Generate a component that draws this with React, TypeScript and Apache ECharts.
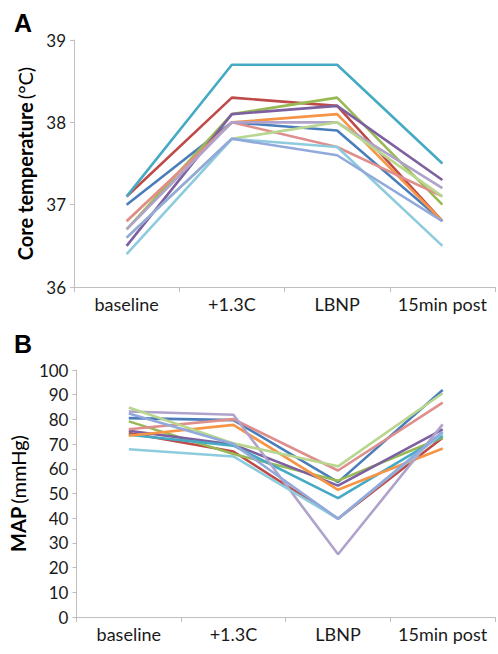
import React, { useEffect, useRef } from "react";
import * as echarts from "echarts";

const categories = ["baseline", "+1.3C", "LBNP", "15min post"];

const seriesNames = [
  "S1", "S2", "S3", "S4", "S5", "S6", "S7", "S8", "S9", "S10", "S11",
];

const seriesColors = [
  "#4A7EBB", // blue
  "#BE4B48", // red
  "#98B954", // green
  "#7D60A0", // purple
  "#46AAC5", // teal
  "#F69546", // orange
  "#DE8E8C", // pink
  "#AFA2CB", // lavender
  "#B9D68F", // light green
  "#8DCBDD", // light blue
  "#92A9DB", // blue-grey
];

// Panel A: core temperature (°C)
const tempValues: number[][] = [
  [37.0, 38.0, 37.9, 36.8],
  [37.1, 38.3, 38.2, 36.8],
  [36.7, 38.1, 38.3, 37.0],
  [36.5, 38.1, 38.2, 37.3],
  [37.1, 38.7, 38.7, 37.5],
  [36.8, 38.0, 38.1, 36.8],
  [36.8, 38.0, 37.7, 37.1],
  [36.7, 38.0, 38.0, 37.2],
  [36.6, 37.8, 38.0, 37.1],
  [36.4, 37.8, 37.7, 36.5],
  [36.6, 37.8, 37.6, 36.8],
];

// Panel B: MAP (mmHg)
const mapValues: number[][] = [
  [80.5, 79.7, 54.6, 91.9],
  [74.5, 67.0, 39.8, 72.6],
  [79.2, 66.0, 55.2, 72.7],
  [75.4, 69.8, 53.2, 76.0],
  [73.8, 69.4, 48.1, 73.4],
  [73.4, 77.8, 51.5, 68.2],
  [76.0, 80.1, 59.3, 86.8],
  [83.2, 81.9, 25.4, 78.0],
  [84.8, 70.3, 61.0, 90.6],
  [67.9, 65.0, 39.8, 74.5],
  [82.4, 70.0, 39.8, 75.0],
];

const tempTicks = { min: 36, max: 39, interval: 1 };
const mapTicks = { min: 0, max: 100, interval: 10 };

const FONT = "Lato, 'Open Sans', sans-serif";

export default function App() {
  const ref = useRef<HTMLDivElement>(null);

  useEffect(() => {
    document.body.style.margin = "0";
    if (!ref.current) return;
    const chart = echarts.init(ref.current, undefined, { renderer: "svg" });

    const axisLabel = { color: "#1a1a1a", fontSize: 17, fontFamily: FONT };
    const axisLine = { show: true, lineStyle: { color: "#BFBFBF", width: 1 } };

    const xAxisCommon = {
      type: "category" as const,
      data: categories,
      boundaryGap: true,
      axisLine,
      axisTick: { show: true, length: 5, lineStyle: { color: "#BFBFBF" } },
      axisLabel: { ...axisLabel, fontSize: 18, margin: 8, interval: 0 },
      splitLine: { show: false },
    };

    const yAxisCommon = {
      type: "value" as const,
      axisLine,
      axisTick: { show: true, length: 4, lineStyle: { color: "#BFBFBF" } },
      axisLabel: { ...axisLabel, margin: 8 },
      splitLine: { show: false },
      nameLocation: "middle" as const,
      nameRotate: 90,
    };

    const series: any[] = [];
    seriesNames.forEach((name, i) => {
      series.push({
        name,
        type: "line",
        xAxisIndex: 0,
        yAxisIndex: 0,
        data: tempValues[i],
        symbol: "none",
        lineStyle: { color: seriesColors[i], width: 2.6 },
        itemStyle: { color: seriesColors[i] },
      });
    });
    seriesNames.forEach((name, i) => {
      series.push({
        name,
        type: "line",
        xAxisIndex: 1,
        yAxisIndex: 1,
        data: mapValues[i],
        symbol: "none",
        lineStyle: { color: seriesColors[i], width: 2.6 },
        itemStyle: { color: seriesColors[i] },
      });
    });

    const nameRich = {
      b: { fontSize: 20, fontWeight: "bold", color: "#000", fontFamily: FONT },
      n: { fontSize: 20, color: "#000", fontFamily: FONT },
    };

    chart.setOption({
      animation: false,
      backgroundColor: "#ffffff",
      title: [
        {
          text: "A",
          left: 9,
          top: 5,
          textStyle: { fontSize: 25, fontWeight: "bold", color: "#000", fontFamily: "Liberation Sans, Arial, sans-serif" },
        },
        {
          text: "B",
          left: 9,
          top: 326,
          textStyle: { fontSize: 25, fontWeight: "bold", color: "#000", fontFamily: "Liberation Sans, Arial, sans-serif" },
        },
      ],
      grid: [
        { left: 74, top: 40, width: 421, height: 247, containLabel: false },
        { left: 74, top: 370, width: 421, height: 247, containLabel: false },
      ],
      xAxis: [
        { ...xAxisCommon, gridIndex: 0 },
        { ...xAxisCommon, gridIndex: 1 },
      ],
      yAxis: [
        {
          ...yAxisCommon,
          gridIndex: 0,
          min: tempTicks.min,
          max: tempTicks.max,
          interval: tempTicks.interval,
          name: "{b|Core temperature} {n|(°C)}",
          nameGap: 36,
          nameTextStyle: { fontFamily: FONT, rich: nameRich },
        },
        {
          ...yAxisCommon,
          gridIndex: 1,
          min: mapTicks.min,
          max: mapTicks.max,
          interval: mapTicks.interval,
          name: "{b|MAP} {n|(mmHg)}",
          nameGap: 36,
          nameTextStyle: { fontFamily: FONT, rich: nameRich },
        },
      ],
      series,
    });

    return () => chart.dispose();
  }, []);

  return <div ref={ref} style={{ width: 498, height: 654 }} />;
}
